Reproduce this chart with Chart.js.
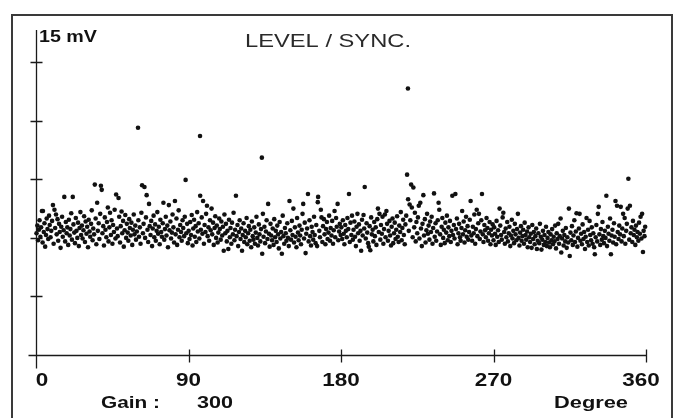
<!DOCTYPE html>
<html>
<head>
<meta charset="utf-8">
<script src="https://cdn.jsdelivr.net/npm/chart.js@4"></script>
<style>
  html, body { margin: 0; padding: 0; background: #fff; }
  #wrap { width: 674px; height: 418px; position: relative; }
</style>
</head>
<body>
<div id="wrap"><canvas id="chart"></canvas></div>
<script>
// Angle (degree) / level (divisions) samples
const sweep0to90 = [
  [0.3,2.08],[0.8,2.21],[1.2,1.96],[1.7,2.14],[2.1,2.30],[2.6,2.02],[3.0,2.18],[3.5,2.46],[3.9,1.92],[4.1,2.46],
  [4.6,2.10],[5.0,2.25],[5.4,1.85],[5.9,2.05],[6.3,2.33],[6.8,2.15],[7.2,1.98],[7.7,2.38],[8.1,2.22],[8.6,2.01],
  [9.0,2.12],[9.5,2.29],[10.0,2.56],[10.4,1.90],[10.9,2.48],[11.3,2.17],[11.8,2.40],[12.2,2.06],[12.7,2.32],[13.1,1.95],
  [13.6,2.24],[14.0,2.10],[14.5,1.83],[14.9,2.19],[15.4,2.36],[15.8,2.02],[16.3,2.13],[16.7,2.70],[17.2,1.94],[17.6,2.27],
  [18.1,2.08],[18.5,2.18],[19.0,1.88],[19.4,2.31],[19.9,2.04],[20.3,2.15],[20.8,2.42],[21.2,1.97],[21.7,2.70],[22.1,2.23],
  [22.6,2.09],[23.0,1.91],[23.5,2.34],[23.9,2.12],[24.4,2.00],[24.8,2.26],[25.3,1.86],[25.7,2.17],[26.2,2.44],[26.6,2.05],
  [27.1,2.21],[27.5,1.99],[28.0,2.13],[28.4,2.37],[28.9,1.93],[29.3,2.28],[29.8,2.07],[30.2,2.19],[30.7,1.84],[31.1,2.31],
  [31.6,2.11],[32.0,2.02],[32.5,2.24],[32.9,2.47],[33.4,1.96],[33.8,2.16],[34.3,2.06],[34.7,2.91],[35.2,2.33],[35.6,1.89],
  [36.1,2.60],[36.5,2.12],[37.0,2.25],[37.4,1.98],[37.9,2.41],[38.3,2.89],[38.8,2.82],[39.2,2.08],[39.7,2.20],[40.1,1.87],
  [40.6,2.35],[41.0,2.14],[41.5,2.01],[41.9,2.27],[42.4,2.52],[42.8,1.94],[43.3,2.18],[43.7,2.43],[44.2,2.05],[44.6,2.30],
  [45.1,1.90],[45.5,2.22],[46.0,2.10],[46.4,2.48],[46.9,1.99],[47.3,2.74],[47.8,2.16],[48.2,2.03],[48.7,2.68],[49.1,2.36],
  [49.6,1.92],[50.0,2.20],[50.5,2.45],[50.9,2.08],[51.4,2.29],[51.8,1.85],[52.3,2.13],[52.7,2.39],[53.2,2.00],[53.6,2.24],
  [54.1,2.09],[54.5,1.95],[55.0,2.32],[55.4,2.17],[55.9,2.04],[56.3,2.26],[56.8,1.88],[57.2,2.14],[57.7,2.40],[58.1,2.06],
  [58.6,2.21],[59.0,1.97],[59.5,2.11],[60.2,3.88],[60.4,2.30],[60.8,2.02],[61.3,2.18],[61.7,1.90],[62.2,2.43],[62.6,2.90],
  [63.1,2.08],[63.5,2.24],[64.0,2.87],[64.4,2.00],[64.9,2.35],[65.3,2.73],[65.8,2.14],[66.2,1.93],[66.7,2.58],[67.1,2.20],
  [67.6,2.05],[68.0,2.29],[68.5,1.86],[68.9,2.16],[69.4,2.38],[69.8,2.01],[70.3,2.23],[70.7,1.95],[71.2,2.12],[71.6,2.44],
  [72.1,2.07],[72.5,2.19],[73.0,1.89],[73.4,2.31],[73.9,2.10],[74.3,2.02],[74.8,2.25],[75.2,2.60],[75.7,1.97],[76.1,2.15],
  [76.6,2.36],[77.0,2.04],[77.5,2.21],[77.9,1.84],[78.4,2.56],[78.8,2.13],[79.3,2.28],[79.7,1.99],[80.2,2.09],[80.6,2.40],
  [81.1,2.18],[81.5,1.92],[82.0,2.63],[82.4,2.06],[82.9,2.33],[83.3,1.88],[83.8,2.14],[84.2,2.47],[84.7,2.01],[85.1,2.22],
  [85.6,2.10],[86.0,1.95],[86.5,2.30],[86.9,2.17],[87.4,2.03],[87.8,2.36],[88.3,2.99],[88.7,2.08],[89.2,2.24],[89.6,1.91]
];

const sweep90to180 = [
  [90.1,2.12],[90.6,1.98],[91.0,2.27],[91.5,2.05],[91.9,2.39],[92.4,1.87],[92.8,2.16],[93.3,2.31],[93.7,2.02],[94.2,2.20],
  [94.6,1.93],[95.1,2.44],[95.5,2.11],[96.0,2.25],[96.4,1.99],[96.8,3.74],[96.9,2.72],[97.3,2.14],[97.8,2.35],[98.2,2.07],
  [98.6,2.63],[99.1,1.90],[99.5,2.22],[100.0,2.10],[100.4,2.41],[100.9,2.55],[101.3,2.03],[101.8,2.18],[102.2,1.95],[102.7,2.30],
  [103.1,2.13],[103.6,2.50],[104.0,2.06],[104.5,2.26],[104.9,1.88],[105.4,2.17],[105.8,2.37],[106.3,2.00],[106.7,2.21],[107.2,1.92],
  [107.6,2.09],[108.1,2.33],[108.5,2.15],[109.0,1.97],[109.4,2.28],[109.9,2.04],[110.3,2.19],[110.8,1.78],[111.2,2.40],[111.7,2.08],
  [112.1,2.24],[112.6,1.94],[113.0,2.12],[113.5,1.81],[113.9,2.31],[114.4,2.01],[114.8,2.17],[115.3,1.90],[115.7,2.26],[116.2,2.06],
  [116.6,2.43],[117.1,1.96],[117.5,2.14],[118.0,2.72],[118.4,2.03],[118.9,2.22],[119.3,1.86],[119.8,2.10],[120.2,2.30],[120.7,1.98],
  [121.1,2.16],[121.6,1.78],[122.0,2.05],[122.5,2.25],[122.9,1.93],[123.4,2.12],[123.8,2.01],[124.3,2.34],[124.7,1.89],[125.2,2.08],
  [125.6,2.20],[126.1,1.95],[126.5,2.14],[127.0,1.84],[127.4,2.28],[127.9,2.03],[128.3,1.97],[128.8,2.18],[129.2,1.90],[129.7,2.09],
  [130.1,2.36],[130.6,2.00],[131.0,1.87],[131.5,2.23],[131.9,2.06],[132.4,1.94],[132.8,2.15],[133.3,3.37],[133.5,1.73],[133.9,2.41],
  [134.3,2.02],[134.8,2.19],[135.2,1.91],[135.7,2.11],[136.1,2.30],[136.6,1.98],[137.0,2.58],[137.5,2.07],[137.9,1.85],[138.4,2.24],
  [138.8,2.04],[139.3,1.96],[139.7,2.16],[140.2,1.88],[140.6,2.32],[141.1,2.01],[141.5,2.12],[142.0,1.93],[142.4,2.21],[142.9,2.06],
  [143.3,1.82],[143.8,2.27],[144.2,1.99],[144.7,2.10],[145.1,1.73],[145.6,2.38],[146.0,2.03],[146.5,1.90],[146.9,2.17],[147.4,2.08],
  [147.8,1.95],[148.3,2.25],[148.7,2.00],[149.2,1.86],[149.6,2.63],[150.1,2.13],[150.5,1.97],[151.0,2.29],[151.4,2.05],[151.9,2.50],
  [152.3,1.92],[152.8,2.18],[153.2,2.02],[153.7,1.84],[154.1,2.34],[154.6,2.09],[155.0,1.96],[155.5,2.21],[155.9,2.04],[156.4,1.89],
  [156.8,2.14],[157.3,2.41],[157.7,2.58],[158.2,1.99],[158.6,2.26],[159.1,1.74],[159.5,2.07],[160.0,2.16],[160.5,2.75],[160.9,1.94],
  [161.4,2.30],[161.8,2.03],[162.3,1.87],[162.7,2.19],[163.2,2.10],[163.6,1.97],[164.1,2.36],[164.5,2.05],[165.0,1.91],[165.4,2.22],
  [165.9,1.86],[166.3,2.61],[166.5,2.70],[167.2,2.12],[167.6,2.01],[168.1,2.48],[168.5,2.35],[169.0,1.93],[169.4,2.20],[169.9,2.32],
  [170.3,2.06],[170.8,1.89],[171.2,2.15],[171.7,2.27],[172.1,1.98],[172.6,2.09],[173.0,2.38],[173.5,1.95],[173.9,2.17],[174.4,2.04],
  [174.8,2.29],[175.3,1.90],[175.7,2.13],[176.2,2.46],[176.6,2.01],[177.1,2.34],[177.5,2.19],[178.0,2.58],[178.4,1.96],[178.9,2.11],
  [179.3,2.24],[179.8,2.05]
];

const sweep180to270 = [
  [180.2,2.18],[180.7,1.98],[181.1,2.30],[181.6,2.07],[182.0,1.89],[182.5,2.22],[182.9,2.12],[183.4,2.01],[183.8,2.34],[184.3,2.15],
  [184.7,2.75],[185.2,1.93],[185.6,2.26],[186.1,2.05],[186.5,2.38],[187.0,1.97],[187.4,2.14],[187.9,2.28],[188.3,2.02],[188.8,1.86],
  [189.2,2.19],[189.7,2.41],[190.1,2.08],[190.6,2.23],[191.0,1.95],[191.5,2.12],[191.9,1.78],[192.4,2.31],[192.8,2.04],[193.3,2.39],
  [193.7,2.16],[194.0,2.87],[194.6,1.99],[195.1,2.25],[195.5,2.09],[196.0,1.91],[196.4,1.85],[196.9,2.20],[197.3,1.79],[197.8,2.35],
  [198.2,2.06],[198.7,2.14],[199.1,1.94],[199.6,2.27],[200.0,2.03],[200.5,2.18],[200.9,1.88],[201.4,2.32],[201.8,2.50],[202.3,2.10],
  [202.7,2.41],[203.2,1.97],[203.6,2.22],[204.1,2.07],[204.5,2.36],[205.0,1.90],[205.4,2.15],[205.9,2.40],[206.3,2.01],[206.8,2.46],
  [207.2,2.24],[207.7,1.95],[208.1,2.12],[208.6,2.29],[209.0,2.04],[209.5,1.87],[209.9,2.19],[210.4,2.33],[210.8,1.91],[211.3,2.08],
  [211.7,2.26],[212.2,1.98],[212.6,2.14],[213.1,2.37],[213.5,2.02],[214.0,1.93],[214.4,2.21],[214.9,2.10],[215.3,2.44],[215.8,1.96],
  [216.2,2.17],[216.7,2.31],[217.1,2.05],[217.6,1.89],[218.0,2.23],[218.5,2.38],[219.0,3.08],[219.5,4.55],[219.6,2.66],[220.0,2.12],
  [220.5,2.57],[220.9,2.30],[221.4,2.91],[221.8,2.52],[222.3,2.01],[222.7,2.86],[223.2,2.18],[223.6,2.43],[224.1,1.94],[224.5,2.27],
  [225.0,2.08],[225.4,2.35],[225.9,2.55],[226.3,1.99],[226.8,2.60],[227.2,2.16],[227.7,1.86],[228.1,2.24],[228.6,2.73],[229.0,2.04],
  [229.5,2.32],[229.9,1.92],[230.4,2.13],[230.8,2.41],[231.3,2.07],[231.7,2.21],[232.2,1.97],[232.6,2.28],[233.1,2.10],[233.5,2.36],
  [234.0,1.90],[234.4,2.17],[234.9,2.76],[235.3,2.02],[235.8,2.25],[236.2,1.95],[236.7,2.11],[237.1,2.30],[237.6,2.60],[238.0,2.48],
  [238.5,2.06],[238.9,1.88],[239.4,2.19],[239.8,2.34],[240.3,2.00],[240.7,2.14],[241.2,1.91],[241.6,2.26],[242.1,2.09],[242.5,2.38],
  [243.0,1.96],[243.4,2.18],[243.9,2.03],[244.3,2.29],[244.8,1.93],[245.2,2.12],[245.7,2.72],[246.1,2.05],[246.6,2.22],[247.0,1.99],
  [247.5,2.75],[247.9,2.15],[248.4,2.33],[248.8,1.89],[249.3,2.08],[249.7,2.24],[250.2,2.01],[250.6,1.95],[251.1,2.17],[251.5,2.46],
  [252.0,2.06],[252.4,2.28],[252.9,1.92],[253.3,2.13],[253.8,2.36],[254.2,2.02],[254.7,2.20],[255.1,1.97],[255.6,2.10],[256.0,2.31],
  [256.5,2.63],[256.9,2.04],[257.4,1.95],[257.8,2.19],[258.3,2.08],[258.7,2.40],[259.2,1.90],[259.6,2.15],[260.1,2.48],[260.5,2.03],
  [261.0,2.25],[261.4,2.41],[261.9,1.98],[262.3,2.11],[262.8,2.30],[263.2,2.75],[263.7,2.06],[264.1,1.93],[264.6,2.22],[265.0,2.13],
  [265.5,2.01],[265.9,2.34],[266.4,2.17],[266.8,1.95],[267.3,2.08],[267.7,2.27],[268.2,1.89],[268.6,2.14],[269.1,2.04],[269.5,2.23]
];

const sweep270to360 = [
  [270.0,1.96],[270.4,2.18],[270.9,2.07],[271.3,1.88],[271.8,2.29],[272.2,2.02],[272.7,2.13],[273.1,1.93],[273.6,2.50],[274.0,2.21],
  [274.5,2.05],[274.9,1.97],[275.4,2.35],[275.8,2.43],[276.3,2.10],[276.7,1.90],[277.2,2.16],[277.6,2.01],[278.1,2.27],[278.5,1.94],
  [279.0,2.08],[279.4,2.19],[279.9,1.86],[280.3,2.04],[280.8,2.31],[281.2,1.99],[281.7,2.12],[282.1,1.91],[282.6,2.24],[283.0,2.06],
  [283.5,1.96],[283.9,2.15],[284.4,2.41],[284.8,2.00],[285.3,1.87],[285.7,2.09],[286.2,2.20],[286.6,1.95],[287.1,2.03],[287.5,2.14],
  [288.0,1.90],[288.4,2.26],[288.9,2.05],[289.3,1.97],[289.8,2.11],[290.2,1.84],[290.7,2.18],[291.1,2.01],[291.6,1.93],[292.0,2.07],
  [292.5,1.83],[292.9,2.22],[293.4,1.98],[293.8,2.10],[294.3,1.89],[294.7,2.03],[295.2,2.16],[295.6,1.81],[296.1,1.95],[296.5,2.08],
  [297.0,1.91],[297.4,2.24],[297.9,2.02],[298.3,1.80],[298.8,1.97],[299.2,2.12],[299.7,1.88],[300.1,2.05],[300.6,1.93],[301.0,2.19],
  [301.5,1.86],[301.9,2.00],[302.4,2.10],[302.8,1.92],[303.3,1.84],[303.7,2.06],[304.2,1.96],[304.6,2.15],[305.1,1.89],[305.5,2.02],
  [306.0,1.94],[306.4,2.21],[306.9,1.82],[307.3,2.08],[307.8,1.98],[308.2,2.24],[308.7,1.90],[309.1,2.03],[309.6,2.33],[310.0,1.75],
  [310.5,1.99],[310.9,2.12],[311.4,1.87],[311.8,2.05],[312.3,1.94],[312.7,2.17],[313.2,1.83],[313.6,2.01],[314.1,1.92],[314.5,2.50],
  [315.0,1.69],[315.4,2.09],[315.9,1.96],[316.3,2.20],[316.8,1.88],[317.2,2.04],[317.7,2.30],[318.1,1.93],[318.6,2.11],[319.0,2.42],
  [319.5,1.85],[319.9,2.00],[320.4,2.16],[320.8,2.41],[321.3,1.95],[321.7,2.07],[322.2,1.89],[322.6,2.23],[323.1,1.98],[323.5,2.10],
  [324.0,1.81],[324.4,2.02],[324.9,2.34],[325.3,1.93],[325.8,2.14],[326.2,1.87],[326.7,2.29],[327.1,2.05],[327.6,1.96],[328.0,2.18],
  [328.5,1.90],[328.9,2.08],[329.4,1.84],[329.8,1.72],[330.3,2.01],[330.7,2.22],[331.2,1.94],[331.6,2.41],[332.1,2.53],[332.5,2.06],
  [333.0,1.88],[333.4,2.15],[333.9,1.97],[334.3,2.27],[334.8,2.03],[335.2,1.91],[335.7,2.12],[336.1,2.00],[336.6,2.72],[337.0,1.86],
  [337.5,2.19],[337.9,2.07],[338.4,1.95],[338.8,2.33],[339.3,1.72],[339.7,2.04],[340.2,2.14],[340.6,1.92],[341.1,2.25],[341.5,2.02],
  [342.0,2.63],[342.4,1.89],[342.9,2.55],[343.3,2.10],[343.8,1.98],[344.2,2.21],[344.7,2.06],[345.1,2.53],[345.6,1.94],[346.0,2.16],
  [346.5,2.41],[346.9,2.03],[347.4,2.34],[347.8,1.90],[348.3,2.12],[348.7,2.24],[349.2,2.50],[349.6,3.01],[350.1,1.97],[350.5,2.55],
  [351.0,2.08],[351.4,2.18],[351.9,1.93],[352.3,2.29],[352.8,2.05],[353.2,2.14],[353.7,1.88],[354.1,2.21],[354.6,2.01],[355.0,2.10],
  [355.5,1.95],[355.9,2.26],[356.4,2.07],[356.8,2.36],[357.3,1.99],[357.7,2.41],[358.2,1.76],[358.6,2.12],[359.1,2.03],[359.5,2.19]
];

const xTicks = [0, 90, 180, 270, 360];
const yTicks = [1, 2, 3, 4, 5];
const title = "LEVEL / SYNC.";
const unitLabel = "15 mV";
const gainLabel = "Gain :";
const gainValue = "300";
const axisLabel = "Degree";

const allSamples = sweep0to90.concat(sweep90to180, sweep180to270, sweep270to360);

// text in the scope image is stretched sideways, so squeeze/stretch it to a width
function stretchText(ctx, text, x, y, width, align) {
  const natural = ctx.measureText(text).width;
  const k = width / natural;
  ctx.save();
  let left = x;
  if (align === "center") left = x - width / 2;
  if (align === "right") left = x - width;
  ctx.translate(left, y);
  ctx.scale(k, 1);
  ctx.textAlign = "left";
  ctx.fillText(text, 0, 0);
  ctx.restore();
}

const scopeFrame = {
  id: "scopeFrame",
  beforeDatasetsDraw(chart) {
    const ctx = chart.ctx;
    const xs = chart.scales.x;
    const ys = chart.scales.y;
    const x0 = Math.round(xs.getPixelForValue(0)) + 0.5;
    const y0 = Math.round(ys.getPixelForValue(0)) + 0.5;
    const xEnd = xs.getPixelForValue(360);
    const yTop = ys.getPixelForValue(ys.max);

    ctx.save();
    // outer box
    ctx.strokeStyle = "#3a3a3a";
    ctx.lineWidth = 2;
    ctx.strokeRect(12, 15, 660, 420);

    ctx.strokeStyle = "#1a1a1a";
    ctx.lineWidth = 1.3;
    ctx.beginPath();
    // vertical axis
    ctx.moveTo(x0, yTop);
    ctx.lineTo(x0, y0 + 13);
    // horizontal axis
    ctx.moveTo(x0 - 8, y0);
    ctx.lineTo(xEnd, y0);
    ctx.stroke();

    ctx.beginPath();
    yTicks.forEach((v) => {
      const py = Math.round(ys.getPixelForValue(v)) + 0.5;
      ctx.moveTo(x0 - 6, py);
      ctx.lineTo(x0 + 6, py);
    });
    xTicks.slice(1).forEach((v) => {
      const px = Math.round(xs.getPixelForValue(v)) + 0.5;
      ctx.moveTo(px, y0 - 6);
      ctx.lineTo(px, y0 + 7);
    });
    ctx.stroke();
    ctx.restore();
  },
  afterDraw(chart) {
    const ctx = chart.ctx;
    const xs = chart.scales.x;
    const ys = chart.scales.y;
    const y0 = ys.getPixelForValue(0);

    ctx.save();
    ctx.fillStyle = "#111";
    ctx.textBaseline = "middle";

    ctx.font = "bold 16px Arial, 'Liberation Sans', sans-serif";
    stretchText(ctx, unitLabel, 39, 38, 58, "left");

    ctx.font = "19px Arial, 'Liberation Sans', sans-serif";
    ctx.fillStyle = "#2a2a2a";
    stretchText(ctx, title, 245, 42, 166, "left");

    ctx.fillStyle = "#111";
    ctx.font = "bold 18px Arial, 'Liberation Sans', sans-serif";
    xTicks.forEach((v) => {
      const label = String(v);
      const w = label.length * 12.5;
      let px = xs.getPixelForValue(v);
      if (v === 0) px += 6;
      if (v === 360) px -= 5;
      stretchText(ctx, label, px, y0 + 26, w, "center");
    });

    ctx.font = "bold 17px Arial, 'Liberation Sans', sans-serif";
    stretchText(ctx, gainLabel, 101, y0 + 48, 59, "left");
    stretchText(ctx, gainValue, 197, y0 + 48, 36, "left");
    stretchText(ctx, axisLabel, 554, y0 + 48, 74, "left");
    ctx.restore();
  }
};

new Chart(document.getElementById("chart"), {
  type: "scatter",
  data: {
    datasets: [
      {
        data: allSamples.map((p) => ({ x: p[0], y: p[1] })),
        backgroundColor: "#111",
        borderColor: "#111",
        borderWidth: 0,
        pointRadius: 2.3,
        clip: false,
      },
    ],
  },
  options: {
    responsive: true,
    maintainAspectRatio: false,
    animation: false,
    events: [],
    layout: {
      padding: { left: 36, right: 28, top: 30, bottom: 63 },
    },
    plugins: {
      legend: { display: false },
      tooltip: { enabled: false },
    },
    scales: {
      x: { type: "linear", min: 0, max: 360, display: false },
      y: { type: "linear", min: 0, max: 5.55, display: false },
    },
  },
  plugins: [scopeFrame],
});
</script>
</body>
</html>
